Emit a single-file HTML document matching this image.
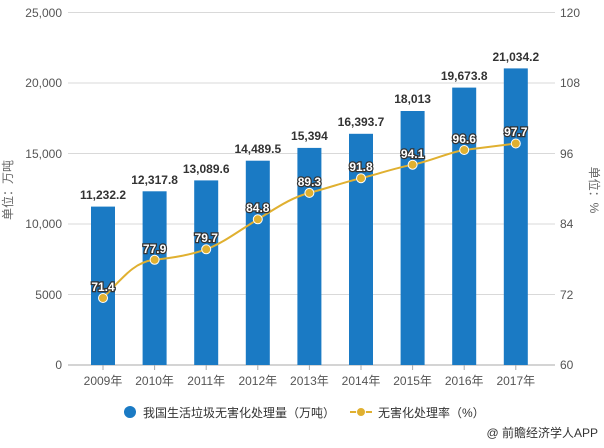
<!DOCTYPE html>
<html><head><meta charset="utf-8"><style>
body{margin:0;background:#fff;width:604px;height:443px;overflow:hidden;font-family:"Liberation Sans","Noto Sans CJK SC",sans-serif}
</style></head><body>
<svg width="604" height="443" xmlns="http://www.w3.org/2000/svg" font-family="Liberation Sans, Noto Sans CJK SC, sans-serif">
<g stroke="#d9d9d9" stroke-width="1">
<line x1="68" y1="12.5" x2="555" y2="12.5"/><line x1="68" y1="83" x2="555" y2="83"/>
<line x1="68" y1="153.5" x2="555" y2="153.5"/><line x1="68" y1="224" x2="555" y2="224"/>
<line x1="68" y1="294.5" x2="555" y2="294.5"/>
</g>
<line x1="68" y1="365" x2="555" y2="365" stroke="#aaa"/>
<g font-size="12" fill="#555" text-anchor="end">
<text x="62" y="17">25,000</text><text x="62" y="87">20,000</text><text x="62" y="158">15,000</text>
<text x="62" y="228">10,000</text><text x="62" y="299">5000</text><text x="62" y="369">0</text>
</g>
<g font-size="12" fill="#555">
<text x="560" y="17">120</text><text x="560" y="87">108</text><text x="560" y="158">96</text>
<text x="560" y="228">84</text><text x="560" y="299">72</text><text x="560" y="369">60</text>
</g>
<text transform="translate(12,190) rotate(-90)" font-size="12" fill="#666" text-anchor="middle">单位：万吨</text>
<text transform="translate(590,190) rotate(90)" font-size="12" fill="#666" text-anchor="middle">单位：%</text>
<g fill="#1a7ac4">
<rect x="91" y="206.6" width="24" height="158.4"/>
<rect x="142.6" y="191.3" width="24" height="173.7"/>
<rect x="194.2" y="180.4" width="24" height="184.6"/>
<rect x="245.8" y="160.7" width="24" height="204.3"/>
<rect x="297.4" y="147.9" width="24" height="217.1"/>
<rect x="349" y="133.8" width="24" height="231.2"/>
<rect x="400.6" y="111" width="24" height="254"/>
<rect x="452.2" y="87.6" width="24" height="277.4"/>
<rect x="503.8" y="68.4" width="24" height="296.6"/>
</g>
<g font-size="12" font-weight="bold" fill="#333" text-anchor="middle">
<text x="103" y="199">11,232.2</text><text x="154.6" y="184">12,317.8</text><text x="206.2" y="173">13,089.6</text>
<text x="257.8" y="153">14,489.5</text><text x="309.4" y="140">15,394</text><text x="361" y="126">16,393.7</text>
<text x="412.6" y="103">18,013</text><text x="464.2" y="80">19,673.8</text><text x="515.8" y="61">21,034.2</text>
</g>
<path d="M103,298 C125,275 135,262 154.6,259.8 S190,255 206.2,249.3 S240,230 257.8,219.3 S290,198 309.4,192.9 S345,182 361,178.2 S395,168 412.6,164.7 S450,152 464.2,150 L515.8,143.5" fill="none" stroke="#e0b030" stroke-width="2"/>
<g fill="#e0b030" stroke="#fff" stroke-width="1">
<circle cx="103" cy="298" r="4.5"/><circle cx="154.6" cy="259.8" r="4.5"/><circle cx="206.2" cy="249.3" r="4.5"/>
<circle cx="257.8" cy="219.3" r="4.5"/><circle cx="309.4" cy="192.9" r="4.5"/><circle cx="361" cy="178.2" r="4.5"/>
<circle cx="412.6" cy="164.7" r="4.5"/><circle cx="464.2" cy="150" r="4.5"/><circle cx="515.8" cy="143.5" r="4.5"/>
</g>
<g font-size="12" font-weight="bold" fill="#fff" stroke="#333" stroke-width="2.5" paint-order="stroke" text-anchor="middle">
<text x="103" y="291">71.4</text><text x="154.6" y="253">77.9</text><text x="206.2" y="242">79.7</text>
<text x="257.8" y="212">84.8</text><text x="309.4" y="186">89.3</text><text x="361" y="171">91.8</text>
<text x="412.6" y="158">94.1</text><text x="464.2" y="143">96.6</text><text x="515.8" y="136">97.7</text>
</g>
<g stroke="#aaa"><line x1="103" y1="365" x2="103" y2="370"/><line x1="154.6" y1="365" x2="154.6" y2="370"/><line x1="206.2" y1="365" x2="206.2" y2="370"/><line x1="257.8" y1="365" x2="257.8" y2="370"/><line x1="309.4" y1="365" x2="309.4" y2="370"/><line x1="361" y1="365" x2="361" y2="370"/><line x1="412.6" y1="365" x2="412.6" y2="370"/><line x1="464.2" y1="365" x2="464.2" y2="370"/><line x1="515.8" y1="365" x2="515.8" y2="370"/></g>
<g font-size="12" fill="#555" text-anchor="middle">
<text x="103" y="385">2009年</text><text x="154.6" y="385">2010年</text><text x="206.2" y="385">2011年</text>
<text x="257.8" y="385">2012年</text><text x="309.4" y="385">2013年</text><text x="361" y="385">2014年</text>
<text x="412.6" y="385">2015年</text><text x="464.2" y="385">2016年</text><text x="515.8" y="385">2017年</text>
</g>
<circle cx="130" cy="412" r="6" fill="#1a7ac4"/>
<text x="143" y="417" font-size="12" fill="#333">我国生活垃圾无害化处理量（万吨）</text>
<line x1="350" y1="412" x2="372" y2="412" stroke="#e0b030" stroke-width="2"/>
<circle cx="361" cy="412" r="4.5" fill="#e0b030" stroke="#fff"/>
<text x="378" y="417" font-size="12" fill="#333">无害化处理率（%）</text>
<text x="598" y="437" font-size="12" fill="#333" text-anchor="end">@ 前瞻经济学人APP</text>
</svg>
</body></html>
